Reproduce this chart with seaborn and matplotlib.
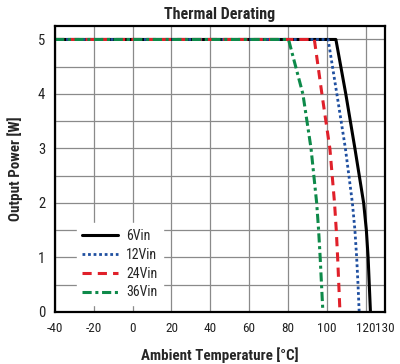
import numpy as np
import pandas as pd
import matplotlib
matplotlib.use("Agg")
import matplotlib.pyplot as plt
import seaborn as sns

# derating curves (temp [°C], power [W])
power = [5.0, 5.0, 4.0, 3.0, 2.0, 1.5, 1.0, 0.5, 0.0]
temp_6v = [-40, 104.7, 109.8, 114.5, 119.0, 120.4, 121.3, 121.9, 122.5]
temp_12v = [-40, 100.7, 105.2, 109.6, 113.2, 114.5, 115.4, 116.1, 116.7]
temp_24v = [-40, 93.6, 97.5, 101.6, 104.0, 104.9, 105.6, 106.2, 106.8]
temp_36v = [-40, 80.3, 87.7, 91.9, 94.8, 95.8, 96.6, 97.3, 98.0]
labels = ['6Vin', '12Vin', '24Vin', '36Vin']

rows = []
for lab, t in zip(labels, [temp_6v, temp_12v, temp_24v, temp_36v]):
    for x, y in zip(t, power):
        rows.append({'series': lab, 'temp': x, 'power': y})
df = pd.DataFrame(rows)

sns.set_style('white')
plt.rcParams['font.family'] = ['Roboto Condensed', 'Archivo Narrow', 'DejaVu Sans']
plt.rcParams['axes.unicode_minus'] = False

fig = plt.figure(figsize=(4, 3.64), dpi=100)
ax = fig.add_axes([0.1375, 0.143, 0.825, 0.786])

styles = {
    '6Vin': dict(color='black', ls='-', lw=2.2),
    '12Vin': dict(color='#1f4fa0', ls=(0, (1, 1)), lw=2.0),
    '24Vin': dict(color='#e0202a', ls=(0, (3, 2)), lw=2.2),
    '36Vin': dict(color='#0e8a4a', ls=(0, (3, 1.2, 1, 1.2)), lw=2.2),
}
for lab in labels:
    d = df[df['series'] == lab]
    sns.lineplot(data=d, x='temp', y='power', sort=False, ax=ax, label=lab,
                 estimator=None, **styles[lab])

ax.set_xlim(-40, 130)
ax.set_ylim(0, 5.25)
ax.set_xticks([-40, -20, 0, 20, 40, 60, 80, 100, 120, 130])
ax.set_yticks([0, 1, 2, 3, 4, 5])
ax.set_yticks(np.arange(0, 5.01, 0.5), minor=True)
ax.grid(True, which='both', axis='y', color='#8a8a8a', lw=0.9)
ax.grid(True, which='major', axis='x', color='#8a8a8a', lw=0.9)
ax.tick_params(axis='y', length=0, labelsize=10.5, pad=7, labelcolor='#222222')
ax.tick_params(axis='x', length=0, labelsize=9.5, pad=7, labelcolor='#222222')
ax.tick_params(which='minor', length=0)
for s in ax.spines.values():
    s.set_color('black')
    s.set_linewidth(1.6)

ax.set_title('Thermal Derating', fontsize=11.5, fontweight='bold', pad=5)
ax.set_xlabel('Ambient Temperature [°C]', fontsize=10.8, fontweight='bold', labelpad=9)
ax.set_ylabel('Output Power [W]', fontsize=10.8, fontweight='bold', labelpad=11)

leg = ax.legend(loc='lower left', bbox_to_anchor=(0.045, 0.0), frameon=True,
                fontsize=10, handlelength=2.6, labelspacing=0.35,
                borderpad=0.4, handletextpad=0.55)
leg.get_frame().set_facecolor('white')
leg.get_frame().set_edgecolor('white')
leg.get_frame().set_alpha(1)

fig.savefig('out.png', dpi=100)
